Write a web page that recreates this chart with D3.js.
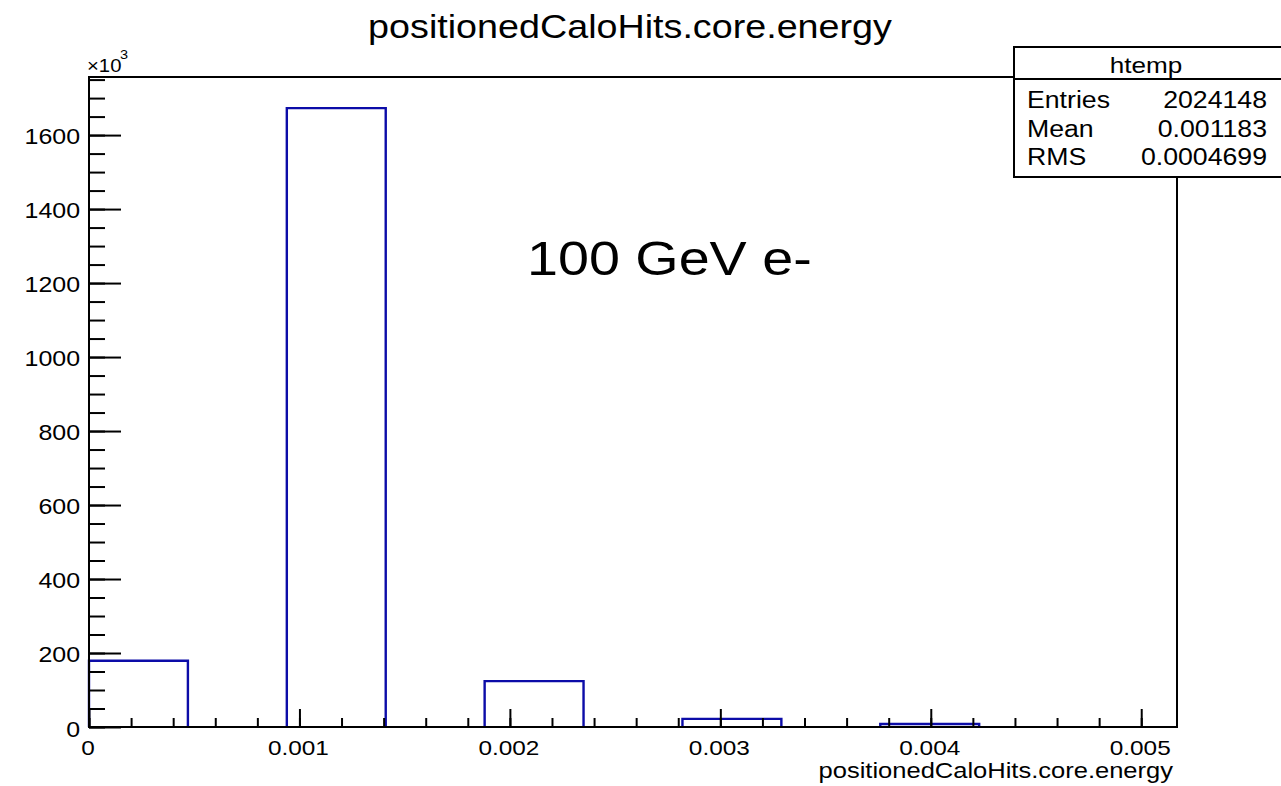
<!DOCTYPE html>
<html><head><meta charset="utf-8">
<script src="https://cdn.jsdelivr.net/npm/d3@7"></script>
<style>body{margin:0;background:#fff}svg{display:block}text{font-family:"Liberation Sans",Arial,Helvetica,sans-serif;fill:#000}</style>
</head><body>
<script>
// ---- data ----
const binWidth = 0.00047;
const binStarts = [0, 0.00047, 0.00094, 0.00141, 0.00188, 0.00235, 0.00282, 0.00329, 0.00376, 0.00423, 0.0047];
const binCounts = [179, 0, 1673, 0, 124, 0, 22, 0, 8, 0, 0]; // x10^3
const xTicks = [0, 0.001, 0.002, 0.003, 0.004, 0.005];
const xTickLabels = ["0", "0.001", "0.002", "0.003", "0.004", "0.005"];
const yTicks = [0, 200, 400, 600, 800, 1000, 1200, 1400, 1600];
const yTickLabels = ["0", "200", "400", "600", "800", "1000", "1200", "1400", "1600"];
const statNames = ["Entries", "Mean", "RMS"];
const statValues = ["2024148", "0.001183", "0.0004699"];
const titleText = "positionedCaloHits.core.energy";
const xTitle = "positionedCaloHits.core.energy";
const annotation = "100 GeV e-";

const W = 1281, H = 786, SX = 1.16;
const svg = d3.select("body").append("svg").attr("width", W).attr("height", H);
const L = 89, R = 1177, T = 77, B = 727;
const x = d3.scaleLinear().domain([0, 0.00517]).range([L, R]);
const y = d3.scaleLinear().domain([0, 1757]).range([B, T]);
const blue = "#0c0ca8";

// histogram bars (outline: left, top, right)
binStarts.forEach((s, i) => {
  const c = binCounts[i];
  if (c <= 0) return;
  const x0 = x(s), x1 = x(s + binWidth), yy = y(c);
  svg.append("path")
    .attr("d", `M${x0},${B}V${yy}H${x1}V${B}`)
    .attr("fill", "none").attr("stroke", blue).attr("stroke-width", 2.4);
});

// axes: minor & major ticks
const xMinor = d3.range(0, 0.00517, 0.0002);
const yMinor = d3.range(0, 1757, 50);
svg.append("g").attr("transform", `translate(0,${B})`)
  .call(d3.axisBottom(x).tickValues(xMinor).tickSize(-9).tickFormat(""))
  .call(g => g.select(".domain").remove());
svg.append("g").attr("transform", `translate(0,${B})`)
  .call(d3.axisBottom(x).tickValues(xTicks).tickSize(-18).tickFormat(""))
  .call(g => g.select(".domain").remove());
svg.append("g").attr("transform", `translate(${L},0)`)
  .call(d3.axisLeft(y).tickValues(yMinor).tickSize(-16).tickFormat(""))
  .call(g => g.select(".domain").remove());
svg.append("g").attr("transform", `translate(${L},0)`)
  .call(d3.axisLeft(y).tickValues(yTicks).tickSize(-32).tickFormat(""))
  .call(g => g.select(".domain").remove());
svg.selectAll(".tick line").attr("stroke", "#000").attr("stroke-width", 2);

// frame
svg.append("rect").attr("x", L).attr("y", T).attr("width", R - L).attr("height", B - T)
  .attr("fill", "none").attr("stroke", "#000").attr("stroke-width", 2);

function stext(xx, yy, str, size, anchor) {
  return svg.append("text")
    .attr("transform", `translate(${xx},${yy}) scale(${SX},1)`)
    .attr("font-size", size).attr("text-anchor", anchor || "start").text(str);
}

// tick labels
xTicks.forEach((v, i) => stext(x(v) - 1, 755, xTickLabels[i], 21, "middle"));
yTicks.forEach((v, i) => stext(80, y(v) + 9 + (v === 0 ? 1 : 0), yTickLabels[i], 21.5, "end"));

// x10^3
stext(87, 72, "\u00d710", 17.5);
stext(120, 59, "3", 12.5);

// title & axis title
stext(630, 38, titleText, 32.5, "middle");
stext(1173, 778, xTitle, 22, "end");

// annotation
stext(527, 275, annotation, 48);

// stats box
const bx = 1014, by = 47, bw = 280, bb = 177, hl = 79;
svg.append("rect").attr("x", bx).attr("y", by).attr("width", bw).attr("height", bb - by)
  .attr("fill", "#fff").attr("stroke", "#000").attr("stroke-width", 2);
svg.append("line").attr("x1", bx).attr("x2", bx + bw).attr("y1", hl).attr("y2", hl)
  .attr("stroke", "#000").attr("stroke-width", 2);
stext(1146, 73, "htemp", 22.5, "middle");
const rowBase = [108, 137, 165];
statNames.forEach((n, i) => {
  stext(1027, rowBase[i], n, 23);
  stext(1267, rowBase[i], statValues[i], 23, "end");
});
</script>
</body></html>
